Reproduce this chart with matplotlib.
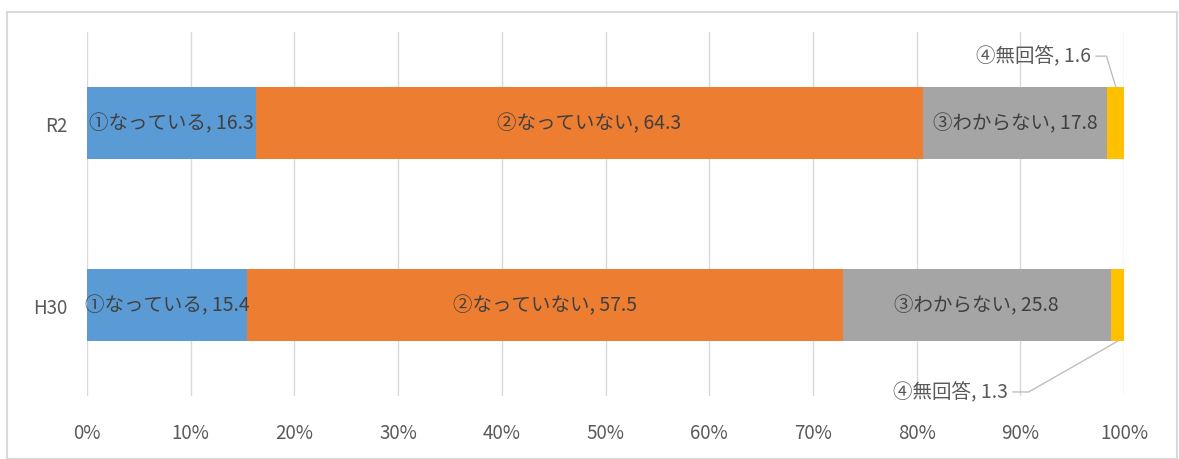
import matplotlib
matplotlib.use("Agg")
import matplotlib.pyplot as plt
from matplotlib.patches import Rectangle

plt.rcParams['font.family'] = ['Noto Sans CJK JP', 'DejaVu Sans']

# Survey years (bottom to top) and response shares in percent
years = ["H30", "R2"]
answers = ["①なっている", "②なっていない", "③わからない", "④無回答"]
h30_values = [15.4, 57.5, 25.8, 1.3]
r2_values = [16.3, 64.3, 17.8, 1.6]
colors = ["#5B9BD5", "#ED7D31", "#A5A5A5", "#FFC000"]
x_ticks = [0, 10, 20, 30, 40, 50, 60, 70, 80, 90, 100]
x_tick_labels = [f"{t}%" for t in x_ticks]

series = [h30_values, r2_values]

fig = plt.figure(figsize=(11.79, 4.6), dpi=100)
ax = fig.add_axes([0.0738, 0.137, 0.8796, 0.791])

# Light frame around the whole chart area
fig.patches.append(Rectangle((7 / 1179, 0.0), 1170 / 1179, (460 - 13) / 460,
                             transform=fig.transFigure, fill=False,
                             edgecolor="#D9D9D9", linewidth=1.5, zorder=0))

label_size = 14
tick_size = 13.5

bar_h = 0.4
for yi, vals in enumerate(series):
    left = 0.0
    for ci, v in enumerate(vals):
        ax.barh(yi, v, left=left, height=bar_h, color=colors[ci], zorder=3)
        if ci < 3:
            ax.text(left + v / 2, yi, f"{answers[ci]}, {v}", ha="center", va="center",
                    fontsize=label_size, color="#404040", zorder=4)
        left += v

# Callouts for the small "no answer" segments
text_color = "#595959"
line_color = "#BFBFBF"

# R2 (upper bar): label above, leader line down to the top of the segment
r2_mid = sum(r2_values[:3]) + r2_values[3] / 2
ax.text(96.8, 1.368, f"{answers[3]}, {r2_values[3]}", ha="right", va="center",
        fontsize=label_size, color=text_color)
ax.plot([97.3, 98.3, r2_mid], [1.368, 1.368, 1 + bar_h / 2],
        color=line_color, linewidth=1, zorder=5, clip_on=False)

# H30 (lower bar): label below, leader line up to the bottom of the segment
h30_mid = sum(h30_values[:3]) + h30_values[3] / 2
ax.text(88.8, -0.478, f"{answers[3]}, {h30_values[3]}", ha="right", va="center",
        fontsize=label_size, color=text_color)
ax.plot([89.3, 90.8, h30_mid], [-0.478, -0.478, -bar_h / 2],
        color=line_color, linewidth=1, zorder=5, clip_on=False)

ax.set_xlim(0, 100)
ax.set_ylim(-0.5, 1.5)
ax.set_xticks(x_ticks)
ax.set_xticklabels(x_tick_labels)
ax.set_yticks(range(len(years)))
ax.set_yticklabels(years)
ax.tick_params(axis="x", length=0, pad=19, labelsize=tick_size, labelcolor="#595959")
ax.tick_params(axis="y", length=0, pad=14, labelsize=tick_size, labelcolor="#595959")
ax.grid(axis="x", color="#D9D9D9", linewidth=1, zorder=0)
for s in ax.spines.values():
    s.set_visible(False)

fig.savefig("out.png", dpi=100)
